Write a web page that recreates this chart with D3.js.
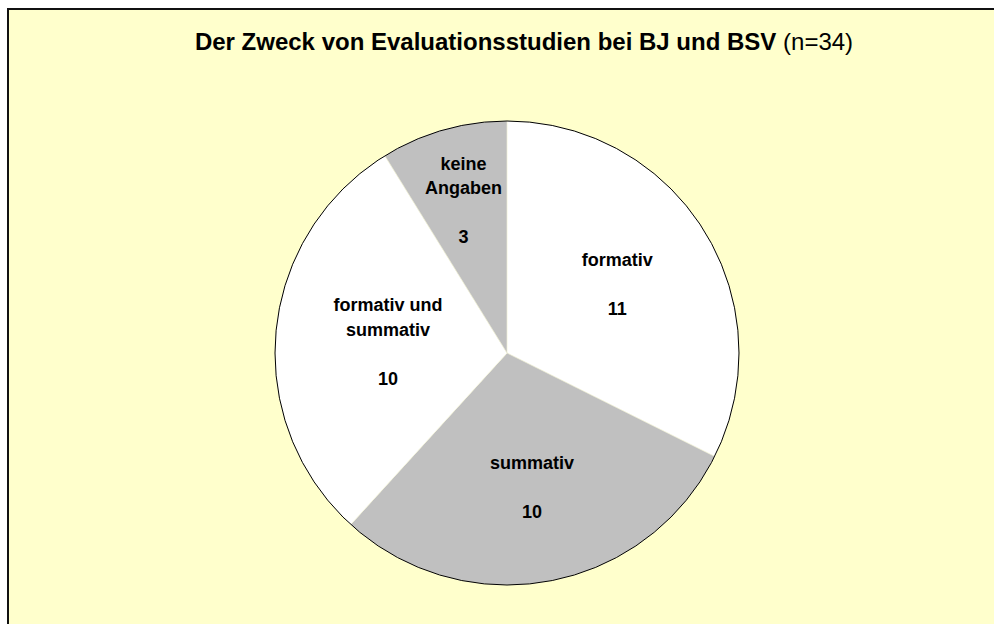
<!DOCTYPE html>
<html>
<head>
<meta charset="utf-8">
<script src="https://cdn.jsdelivr.net/npm/d3@7"></script>
<style>
  body { margin: 0; background: #fff; }
  text { font-family: Arial, "Liberation Sans", sans-serif; fill: #000; }
</style>
</head>
<body>
<script>
//#### DATA ####
var categories = [["formativ"], ["summativ"], ["formativ und", "summativ"], ["keine", "Angaben"]];
var values = [11, 10, 10, 3];
var fills = ["#ffffff", "#c0c0c0", "#ffffff", "#c0c0c0"];
var titleMain = "Der Zweck von Evaluationsstudien bei BJ und BSV";
var titleNote = "(n=34)";

// #### layout ####
var width_outer = 994;
var height_outer = 624;
var cx = 507, cy = 353, radius = 232;
var labelEdge = radius - 54;   // outer edge of a label block, along the radius
var lineHeight = 24.5;

var svg = d3.select("body").append("svg")
  .attr("width", width_outer)
  .attr("height", height_outer);

// frame (runs off the right and bottom edge)
svg.append("rect")
  .attr("x", 8)
  .attr("y", 9)
  .attr("width", 1100)
  .attr("height", 800)
  .style("fill", "#ffffcc")
  .style("stroke", "#111")
  .style("stroke-width", 2);

// title
var title = svg.append("text")
  .attr("x", 524)
  .attr("y", 50)
  .attr("text-anchor", "middle")
  .style("font-size", "24px");
title.append("tspan").style("font-weight", "bold").text(titleMain);
title.append("tspan").text(" " + titleNote);

// #### pie ####
var data = values.map(function(v, i) { return {label: categories[i], value: v, fill: fills[i]}; });

var pie = d3.pie()
  .sort(null)
  .value(function(d) { return d.value; });

var arc = d3.arc().innerRadius(0).outerRadius(radius);

var g = svg.append("g")
  .attr("transform", "translate(" + cx + "," + cy + ")");

g.selectAll(".slice")
  .data(pie(data))
  .enter().append("path")
  .attr("class", "slice")
  .attr("d", arc)
  .style("fill", function(d) { return d.data.fill; })
  .style("stroke", "#f4f4dc")
  .style("stroke-width", 0.6);

g.append("circle")
  .attr("r", radius)
  .style("fill", "none")
  .style("stroke", "#000")
  .style("stroke-width", 1);

// labels: category lines, blank line, value
var labels = g.selectAll(".label")
  .data(pie(data))
  .enter().append("text")
  .attr("class", "label")
  .attr("text-anchor", "middle")
  .style("font-size", "18px")
  .style("font-weight", "bold");

labels.each(function(d) {
  var lines = d.data.label.concat(["", String(d.data.value)]);
  var t = d3.select(this);
  lines.forEach(function(line, i) {
    t.append("tspan")
      .attr("x", 0)
      .attr("y", i * lineHeight)
      .text(line);
  });

  // place the block inside the slice, pushed out in narrow slices
  var box = this.getBBox();
  var hw = box.width / 2, hh = box.height / 2;
  var mid = (d.startAngle + d.endAngle) / 2;
  var half = (d.endAngle - d.startAngle) / 2;
  var ext = Math.abs(Math.sin(mid)) * hw + Math.abs(Math.cos(mid)) * hh;
  var dist = Math.max(labelEdge - ext, hw / Math.tan(half) + hh / 2);
  var px = Math.sin(mid) * dist - (box.x + hw);
  var py = -Math.cos(mid) * dist - (box.y + hh);
  t.attr("transform", "translate(" + px + "," + py + ")");
});
</script>
</body>
</html>
